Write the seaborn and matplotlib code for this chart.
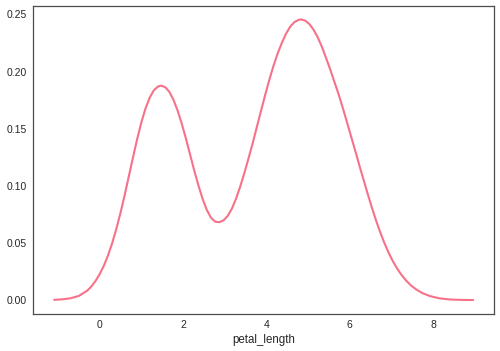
import matplotlib
matplotlib.use("Agg")
import matplotlib.pyplot as plt
import pandas as pd
import seaborn as sns

# density curve of petal_length
petal_length = [-1.09, -0.9, -0.7, -0.5, -0.3, -0.2, -0.1, 0.0, 0.1, 0.2,
                0.3, 0.4, 0.5, 0.6, 0.7, 0.8, 0.9, 1.0, 1.1, 1.2,
                1.3, 1.4, 1.47, 1.57, 1.67, 1.77, 1.87, 1.97, 2.07, 2.17,
                2.27, 2.37, 2.47, 2.57, 2.67, 2.77, 2.87, 2.97, 3.07, 3.17,
                3.27, 3.37, 3.47, 3.57, 3.67, 3.77, 3.87, 3.97, 4.07, 4.17,
                4.27, 4.37, 4.47, 4.57, 4.67, 4.77, 4.83, 4.93, 5.03, 5.13,
                5.23, 5.33, 5.43, 5.53, 5.63, 5.73, 5.83, 5.93, 6.03, 6.13,
                6.23, 6.33, 6.43, 6.53, 6.63, 6.73, 6.83, 6.93, 7.03, 7.13,
                7.23, 7.35, 7.47, 7.60, 7.75, 7.93, 8.15, 8.40, 8.70, 8.96]
density = [0.0006, 0.0010, 0.0019, 0.0040, 0.0085, 0.0122, 0.0170, 0.0230, 0.0303, 0.0393,
           0.0500, 0.0625, 0.0765, 0.0920, 0.1085, 0.1250, 0.1410, 0.1555, 0.1678, 0.1772,
           0.1836, 0.1870, 0.1877, 0.1865, 0.1825, 0.1755, 0.1660, 0.1545, 0.1415, 0.1275,
           0.1135, 0.1005, 0.0888, 0.0792, 0.0724, 0.0689, 0.0684, 0.0700, 0.0738, 0.0800,
           0.0888, 0.0993, 0.1112, 0.1240, 0.1373, 0.1515, 0.1655, 0.1795, 0.1928, 0.2050,
           0.2158, 0.2250, 0.2330, 0.2392, 0.2432, 0.2452, 0.2456, 0.2446, 0.2416, 0.2367,
           0.2301, 0.2218, 0.2121, 0.2020, 0.1912, 0.1805, 0.1686, 0.1562, 0.1436, 0.1310,
           0.1181, 0.1056, 0.0932, 0.0812, 0.0700, 0.0597, 0.0503, 0.0419, 0.0346, 0.0283,
           0.0229, 0.0175, 0.0131, 0.0095, 0.0063, 0.0038, 0.0019, 0.0009, 0.0005, 0.0004]

df = pd.DataFrame({"petal_length": petal_length, "density": density})

sns.set_style("white")
plt.rcParams["font.family"] = ["Liberation Sans", "DejaVu Sans"]
plt.rcParams["text.color"] = ".15"
plt.rcParams["xtick.color"] = ".15"
plt.rcParams["ytick.color"] = ".15"

fig = plt.figure(figsize=(5, 3.51), dpi=100)
ax = fig.add_axes([0.0667, 0.1054, 0.9213, 0.8784])

color = sns.color_palette("husl", 8)[0]
sns.lineplot(data=df, x="petal_length", y="density", ax=ax,
             color=color, linewidth=1.5, sort=False)

ax.set_xticks([0, 2, 4, 6, 8])
ax.set_yticks([0.00, 0.05, 0.10, 0.15, 0.20, 0.25])
ax.set_yticklabels(["0.00", "0.05", "0.10", "0.15", "0.20", "0.25"])
ax.tick_params(axis="x", labelsize=7.5, pad=4.5, length=0)
ax.tick_params(axis="y", labelsize=7.5, pad=5, length=0)
ax.set_xlabel("petal_length", fontsize=8.3, labelpad=3)
ax.set_ylabel("")
ax.set_ylim(-0.0118, 0.2576)
ax.set_xlim(-1.59, 9.46)
for sp in ax.spines.values():
    sp.set_color(".3")
    sp.set_linewidth(0.9)

fig.savefig("out.png", dpi=100)
